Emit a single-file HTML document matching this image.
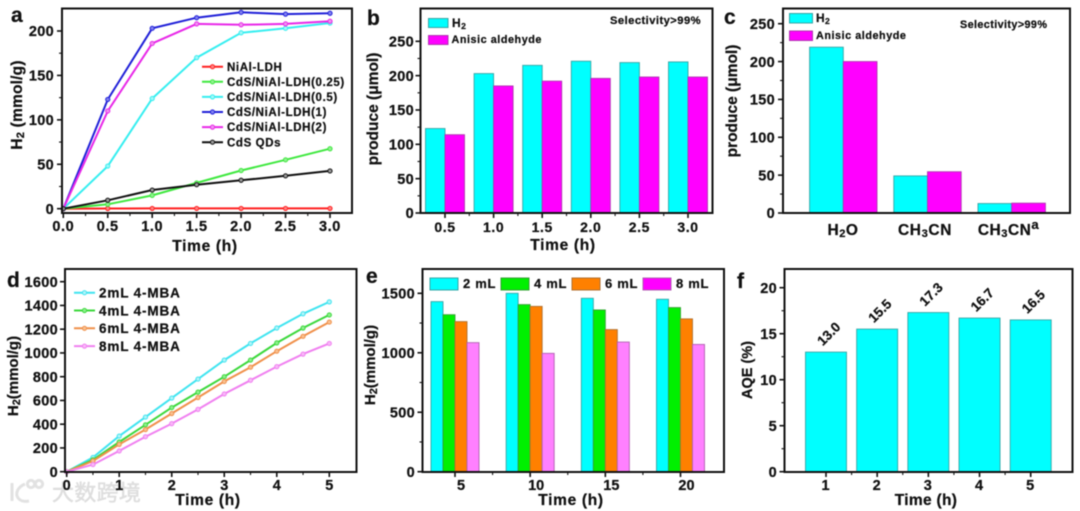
<!DOCTYPE html>
<html lang="en">
<head>
<meta charset="utf-8">
<title>Photocatalytic H2 production charts</title>
<style>
html,body{margin:0;padding:0;background:#fff;width:1080px;height:511px;overflow:hidden}
svg{display:block;filter:blur(0.6px)}
text{font-family:"Liberation Sans","Noto Sans CJK SC",sans-serif;font-weight:bold;fill:#111;stroke:#111;stroke-width:0.25px}
</style>
</head>
<body>
<svg id="figure" xmlns="http://www.w3.org/2000/svg" width="1080" height="511" viewBox="0 0 1080 511"></svg>
<script>
/* Panel a */
const aTimes = [0, 0.5, 1, 1.5, 2, 2.5, 3];
const aNiAl = [0, 0.2, 0.3, 0.3, 0.3, 0.3, 0.3];
const aCdS025 = [0, 5, 15, 29, 43, 55, 67.5];
const aCdS05 = [0, 48, 124, 170, 198, 203, 209];
const aCdS1 = [0, 123, 203, 215, 221, 219, 220];
const aCdS2 = [0, 110, 186, 208, 207, 208, 211];
const aQDs = [0, 9.5, 21, 27, 32, 37, 42.5];
const aNames = ["NiAl-LDH", "CdS/NiAl-LDH(0.25)", "CdS/NiAl-LDH(0.5)", "CdS/NiAl-LDH(1)", "CdS/NiAl-LDH(2)", "CdS QDs"];
const aXTicks = ["0.0", "0.5", "1.0", "1.5", "2.0", "2.5", "3.0"];
const aYTicks = [0, 50, 100, 150, 200];
/* Panel b */
const bCategories = ["0.5", "1.0", "1.5", "2.0", "2.5", "3.0"];
const bH2 = [123, 203, 215, 221, 219, 220];
const bAldehyde = [114, 185, 192, 196, 198, 198];
const bYTicks = [0, 50, 100, 150, 200, 250];
/* Panel c */
const cH2 = [219, 49, 12.5];
const cAldehyde = [200, 54.5, 13];
const cYTicks = [0, 50, 100, 150, 200, 250];
/* Panel d */
const dTimes = [0, 0.5, 1, 1.5, 2, 2.5, 3, 3.5, 4, 4.5, 5];
const d2mL = [0, 120, 300, 460, 620, 780, 940, 1080, 1210, 1330, 1430];
const d4mL = [0, 100, 250, 395, 540, 670, 800, 940, 1085, 1210, 1320];
const d6mL = [0, 90, 230, 355, 490, 625, 760, 880, 1015, 1140, 1260];
const d8mL = [0, 60, 175, 295, 405, 525, 655, 770, 885, 990, 1080];
const dNames = ["2mL 4-MBA", "4mL 4-MBA", "6mL 4-MBA", "8mL 4-MBA"];
const dXTicks = [0, 1, 2, 3, 4, 5];
const dYTicks = [0, 200, 400, 600, 800, 1000, 1200, 1400, 1600];
/* Panel e */
const eCategories = ["5", "10", "15", "20"];
const e2mL = [1430, 1500, 1458, 1450];
const e4mL = [1320, 1405, 1360, 1380];
const e6mL = [1262, 1390, 1195, 1285];
const e8mL = [1085, 995, 1090, 1070];
const eNames = ["2 mL", "4 mL", "6 mL", "8 mL"];
const eYTicks = [0, 500, 1000, 1500];
/* Panel f */
const fCategories = [1, 2, 3, 4, 5];
const fAqe = [13.0, 15.5, 17.3, 16.7, 16.5];
const fYTicks = [0, 5, 10, 15, 20];

const NS = "http://www.w3.org/2000/svg";
const root = document.getElementById("figure");

function scale(d0, r0, d1, r1) {
  return function (v) { return r0 + (v - d0) * (r1 - r0) / (d1 - d0); };
}
function shape(tag, name, attrs, parent) {
  const el = document.createElementNS(NS, tag);
  for (const k in attrs) el.setAttribute(k, attrs[k]);
  
  
  (parent || root).appendChild(el);
  return el;
}
function label(name, html, x, y, size, anchor, spacing, rotate) {
  const el = document.createElementNS(NS, "text");
  el.setAttribute("x", x);
  el.setAttribute("y", y);
  el.setAttribute("font-size", size);
  el.setAttribute("text-anchor", anchor || "start");
  if (spacing) el.setAttribute("letter-spacing", spacing);
  if (rotate !== undefined) el.setAttribute("transform", "rotate(" + rotate + " " + x + " " + y + ")");
  el.innerHTML = html;
  
  
  root.appendChild(el);
  return el;
}
function frame(name, x0, y0, x1, y1) {
  shape("rect", name + "-frame", { x: x0, y: y0, width: x1 - x0, height: y1 - y0, fill: "none", stroke: "#111", "stroke-width": 2 });
}
function tick(name, x1, y1, x2, y2, w) {
  shape("line", name, { x1: x1, y1: y1, x2: x2, y2: y2, stroke: "#111", "stroke-width": w });
}
function yAxis(p, values, y, axisX, labelX, size, minors) {
  values.forEach(function (v, i) {
    tick(p + "-y-tick", axisX - 5, y(v), axisX, y(v), 1.6);
    label(p + "-y-tick-label", String(v), labelX, y(v) + 5.2, size, "end", 0.3);
    if (minors && i < values.length - 1) {
      const m = (v + values[i + 1]) / 2;
      tick(p + "-y-minor-tick", axisX - 3, y(m), axisX, y(m), 1.1);
    }
  });
}
function xTicks(p, positions, axisY, minors) {
  positions.forEach(function (px, i) {
    tick(p + "-x-tick", px, axisY, px, axisY + 5, 1.6);
    if (minors && i < positions.length - 1) {
      const m = (px + positions[i + 1]) / 2;
      tick(p + "-x-minor-tick", m, axisY, m, axisY + 3, 1.1);
    }
  });
}
function lineSeries(name, xs, ys, x, y, color, fill) {
  const pts = xs.map(function (v, i) { return x(v).toFixed(1) + "," + y(ys[i]).toFixed(1); }).join(" ");
  shape("polyline", name + "-line", { points: pts, fill: "none", stroke: color, "stroke-width": 2 });
  xs.forEach(function (v, i) {
    shape("circle", name + "-point", { cx: x(v), cy: y(ys[i]), r: 2.1, fill: fill, stroke: color, "stroke-width": 1 });
  });
}
function bar(name, x0, w, value, y, baseY, fill, edge) {
  const top = y(value);
  shape("rect", name, { x: x0, y: top, width: w, height: baseY - top, fill: fill, stroke: edge, "stroke-width": 0.9 });
}
function legendLine(name, x0, x1, textX, yPos, color, fill, txt, size, spacing) {
  shape("line", name + "-swatch", { x1: x0, y1: yPos, x2: x1, y2: yPos, stroke: color, "stroke-width": 2 });
  shape("circle", name + "-marker", { cx: (x0 + x1) / 2, cy: yPos, r: 2.1, fill: fill, stroke: color, "stroke-width": 1 });
  label(name + "-label", txt, textX, yPos + size * 0.36, size, "start", spacing);
}
function legendBox(name, x0, y0, w, h, fill, edge) {
  shape("rect", name + "-swatch", { x: x0, y: y0, width: w, height: h, fill: fill, stroke: edge, "stroke-width": 1 });
}
const H2 = 'H<tspan font-size="72%" dy="2">2</tspan>';
const SUB3 = '<tspan font-size="72%" dy="2">3</tspan><tspan dy="-2">CN</tspan>';

/* ---------- Panel a ---------- */
(function () {
  const x = scale(0, 63.3, 3, 330), y = scale(0, 208.7, 200, 31);
  const colors = ["#ff2020", "#3fe83f", "#35eef0", "#2020d8", "#e828e8", "#111111"];
  const fills = ["#ff8080", "#90f090", "#a0f8f8", "#8080f0", "#f090f0", "#999999"];
  const series = [aNiAl, aCdS025, aCdS05, aCdS1, aCdS2, aQDs];
  series.forEach(function (s, i) { lineSeries("a-series-" + (i + 1), aTimes, s, x, y, colors[i], fills[i]); });
  frame("a", 62, 8.5, 352, 213);
  yAxis("a", aYTicks, y, 62, 54, 14.5, true);
  xTicks("a", aTimes.map(x), 213, true);
  aXTicks.forEach(function (t, i) { label("a-x-tick-label", t, x(aTimes[i]), 231, 14.5, "middle", 0.6); });
  label("a-x-axis-title", "Time (h)", 205, 251, 15.5, "middle", 0.7);
  label("a-y-axis-title", H2 + '<tspan dy="-2"> (mmol/g)</tspan>', 22, 105, 15.5, "middle", 0.2, -90);
  label("a-panel-letter", "a", 11, 22, 21, "start");
  aNames.forEach(function (n, i) {
    legendLine("a-legend-" + (i + 1), 202, 223, 227, 66.7 + i * 15.1, colors[i], fills[i], n, 11.5, 0.62);
  });
})();

/* ---------- Panel b ---------- */
(function () {
  const y = scale(0, 213, 250, 41.3);
  const x = scale(0, 445, 5, 688);
  const centers = bCategories.map(function (c, i) { return x(i); });
  centers.forEach(function (cx, i) {
    bar("b-bar-h2", cx - 19.5, 19.5, bH2[i], y, 213, "#00ffff", "#35a5a5");
    bar("b-bar-aldehyde", cx, 19.5, bAldehyde[i], y, 213, "#ff00ff", "#b035b0");
    label("b-x-tick-label", bCategories[i], cx, 232, 14, "middle", 0.6);
  });
  frame("b", 420.5, 8.5, 712.5, 213);
  yAxis("b", bYTicks, y, 420.5, 414, 14.5, true);
  xTicks("b", centers, 213, true);
  label("b-x-axis-title", "Time (h)", 563, 250, 15.5, "middle", 0.7);
  label("b-y-axis-title", "produce (μmol)", 378, 109, 15.5, "middle", 0, -90);
  label("b-panel-letter", "b", 367, 25, 21, "start");
  legendBox("b-legend-h2", 428.5, 18.5, 19.5, 9, "#00ffff", "#35a5a5");
  label("b-legend-h2-label", H2, 452, 27, 12, "start", 0.5);
  legendBox("b-legend-aldehyde", 428.5, 35.5, 19.5, 9, "#ff00ff", "#b035b0");
  label("b-legend-aldehyde-label", "Anisic aldehyde", 451.5, 43, 10.8, "start", 0.55);
  label("b-selectivity-note", "Selectivity&gt;99%", 610, 24, 11.2, "start", 0.45);
})();

/* ---------- Panel c ---------- */
(function () {
  const y = scale(0, 213, 250, 23.7);
  const x = scale(0, 843.3, 2, 1011.7);
  [0, 1, 2].forEach(function (i) {
    bar("c-bar-h2", x(i) - 33.7, 33.7, cH2[i], y, 213, "#00ffff", "#35a5a5");
    bar("c-bar-aldehyde", x(i), 33.7, cAldehyde[i], y, 213, "#ff00ff", "#b035b0");
  });
  frame("c", 783, 8.5, 1070, 213);
  yAxis("c", cYTicks, y, 783, 775, 14.5, true);
  label("c-category-h2o", H2 + '<tspan dy="-2">O</tspan>', 843, 235, 15.5, "middle", 0.5);
  label("c-category-ch3cn", 'CH' + SUB3, 925, 235, 15.5, "middle", 0.6);
  label("c-category-ch3cn-a", 'CH' + SUB3 + '<tspan font-size="85%" dy="-6">a</tspan>', 1008.5, 235, 15.5, "middle", 0.5);
  label("c-y-axis-title", "produce (μmol)", 737, 101, 15.5, "middle", 0, -90);
  label("c-panel-letter", "c", 724, 24, 21, "start");
  legendBox("c-legend-h2", 789.5, 13.5, 23, 9.5, "#00ffff", "#35a5a5");
  label("c-legend-h2-label", H2, 816, 22, 12, "start", 0.3);
  legendBox("c-legend-aldehyde", 789.5, 31, 23, 9.5, "#ff00ff", "#b035b0");
  label("c-legend-aldehyde-label", "Anisic aldehyde", 816, 39, 10.8, "start", 0.55);
  label("c-selectivity-note", "Selectivity&gt;99%", 960, 28, 10.8, "start", 0.4);
})();

/* ---------- Panel d ---------- */
(function () {
  const x = scale(0, 66.7, 5, 329.3), y = scale(0, 471.7, 1600, 281.7);
  const colors = ["#3fe4f0", "#3cd83c", "#f0904a", "#f080f0"];
  const fills = ["#b0f4f8", "#8cf08c", "#f8c090", "#f8b8f8"];
  const series = [d2mL, d4mL, d6mL, d8mL];
  series.forEach(function (s, i) { lineSeries("d-series-" + (i + 1), dTimes, s, x, y, colors[i], fills[i]); });
  frame("d", 65, 269, 356.5, 472);
  yAxis("d", dYTicks, y, 65, 58, 14.5, false);
  xTicks("d", dXTicks.map(x), 472, true);
  dNames.forEach(function (n, i) {
    legendLine("d-legend-" + (i + 1), 74, 95, 99, 292.7 + i * 17.8, colors[i], fills[i], n, 13.5, 0.85);
  });
  label("d-y-axis-title", H2 + '<tspan dy="-2">(mmol/g)</tspan>', 18, 376, 15, "middle", 0, -90);
  label("d-panel-letter", "d", 7, 287, 21, "start");
})();

/* ---------- Watermark ---------- */
(function () {
  const g = shape("g", "watermark-logo", { fill: "none", stroke: "#e2e2e2", "stroke-width": 3 });
  shape("path", "watermark-logo-k", { d: "M12 483 L12 501 M25 484 C18 487 16 492 17 496 C19 501 24 502 29 501" }, g);
  shape("circle", "watermark-logo-ring-1", { cx: 31, cy: 484, r: 3.6 }, g);
  shape("circle", "watermark-logo-ring-2", { cx: 39, cy: 484, r: 3.6 }, g);
  const w = label("watermark-text", "大数跨境", 52, 500.5, 22, "start", 0.3);
  w.style.fill = "#dedede";
  w.style.stroke = "#dedede";
  w.style.strokeWidth = "0.5px";
  w.style.fontWeight = "normal";
})();

/* ---------- Panel d x labels (drawn over the watermark) ---------- */
(function () {
  const x = scale(0, 66.7, 5, 329.3);
  dXTicks.forEach(function (t) { label("d-x-tick-label", String(t), x(t), 490, 14.5, "middle"); });
  label("d-x-axis-title", "Time (h)", 208, 505, 15.5, "middle", 0.7);
})();

/* ---------- Panel e ---------- */
(function () {
  const y = scale(0, 471.7, 1500, 293.3);
  const x = scale(0, 455, 3, 680.5);
  const w = 12;
  const fills = ["#00ffff", "#00f000", "#ff8000", "#ff80ff"];
  const edges = ["#35a5a5", "#35a035", "#b07030", "#b060b0"];
  const series = [e2mL, e4mL, e6mL, e8mL];
  const centers = eCategories.map(function (c, i) { return x(i); });
  centers.forEach(function (cx, i) {
    series.forEach(function (s, j) {
      bar("e-bar-" + (j + 1), cx - 2 * w + j * w, w, s[i], y, 472, fills[j], edges[j]);
    });
    label("e-x-tick-label", eCategories[i], cx + 6, 490, 14.5, "middle");
  });
  frame("e", 422.5, 269, 724, 472);
  yAxis("e", eYTicks, y, 422.5, 415, 14.5, true);
  xTicks("e", centers, 472, true);
  const swatchFills = ["#00ffff", "#00f000", "#ff8000", "#ff00ff"];
  eNames.forEach(function (n, i) {
    const sx = 430 + i * 71;
    legendBox("e-legend-" + (i + 1), sx, 278, 28, 12, swatchFills[i], edges[i]);
    label("e-legend-" + (i + 1) + "-label", n, sx + 33, 288, 13, "start", 0.7);
  });
  label("e-x-axis-title", "Time (h)", 571, 505, 15.5, "middle", 0.7);
  label("e-y-axis-title", H2 + '<tspan dy="-2">(mmol/g)</tspan>', 375, 365, 15, "middle", 0, -90);
  label("e-panel-letter", "e", 366, 283, 21, "start");
})();

/* ---------- Panel f ---------- */
(function () {
  const y = scale(0, 471.7, 20, 287.7);
  const x = scale(1, 826, 5, 1030.7);
  fCategories.forEach(function (c, i) {
    bar("f-bar", x(c) - 20.5, 41, fAqe[i], y, 472, "#00ffff", "#35a5a5");
    label("f-bar-value", fAqe[i].toFixed(1), x(c) + 6, y(fAqe[i]) - 15, 13.5, "middle", 0, -45);
    label("f-x-tick-label", String(c), x(c) - 0.5, 490, 14.5, "middle");
  });
  frame("f", 784.5, 269, 1072.5, 472);
  yAxis("f", fYTicks, y, 784.5, 777, 14.5, true);
  xTicks("f", fCategories.map(x), 472, true);
  label("f-x-axis-title", "Time (h)", 926, 505, 15.5, "middle", 0.3);
  label("f-y-axis-title", "AQE (%)", 752, 370, 14.5, "middle", 0, -90);
  label("f-panel-letter", "f", 737, 288, 21, "start");
})();
</script>
</body>
</html>
